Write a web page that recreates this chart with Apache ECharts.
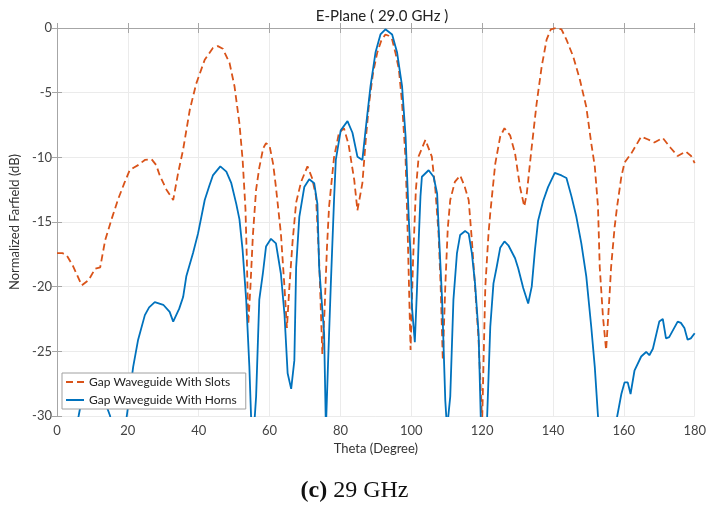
<!DOCTYPE html>
<html>
<head>
<meta charset="utf-8">
<script src="https://cdn.jsdelivr.net/npm/echarts@6/dist/echarts.min.js"></script>
<style>
  html, body { margin: 0; padding: 0; background: #fff; }
  #main { width: 709px; height: 512px; }
</style>
</head>
<body>
<div id="main"></div>
<script>
// theta (degree) and normalized farfield (dB)
var slotsTheta = [0, 1.5, 2.8, 4.5, 6, 7, 8.9, 10.8, 12.2, 13.6, 15.5, 17.3, 19, 20.5, 21.6, 22.9, 24.8, 26.7, 28, 29,
  30.9, 32.8, 34.2, 35.6, 37.5, 39.3, 41.7, 44, 45.4, 46.8, 48.7, 50.1, 51.5, 52.4, 53.2, 53.6, 54, 54.6, 55.3, 56.2,
  57.1, 58.2, 59, 60, 61, 61.8, 63.2, 64.2, 64.9, 65.6, 66.5, 67.5, 68.9, 70.7, 72, 73.1, 74, 74.9, 75.5, 76.2,
  76.8, 78.2, 79.6, 81, 82.3, 83.9, 84.8, 86.2, 87.2, 88.1, 89.2, 90.4, 91.5, 92.7, 93.6, 94.6, 95.6, 96.5, 97.4, 98.4,
  99, 99.8, 100.5, 101.3, 102.1, 104, 105.8, 106.8, 107.7, 108.3, 108.9, 109.6, 110.3, 111, 112.3, 113.8, 115, 116.2, 117.1, 118,
  119, 120, 120.9, 121.8, 122.3, 123.7, 125.1, 126.3, 127.9, 129.3, 130.7, 131.9, 132.6, 134, 135.4, 136.8, 138.2, 139.4, 141, 142.4,
  143.8, 145.7, 147.6, 149.4, 150.8, 151.8, 152.7, 153.2, 154.1, 155, 156, 156.4, 157.4, 158.1, 159.3, 160.2, 162.1, 164.9, 166.7, 168.6,
  171, 173.3, 175.2, 177.5, 179, 180];
var slotsDb = [-17.4, -17.4, -17.6, -18.4, -19.3, -19.9, -19.5, -18.6, -18.5, -16.4, -14.7, -13.2, -12, -11.0, -10.8, -10.6, -10.2, -10.15, -10.6, -11.4,
  -12.5, -13.3, -11.2, -9.4, -6.3, -4.3, -2.45, -1.55, -1.4, -1.6, -2.7, -4.5, -7.4, -10.2, -14, -18, -22.9, -20, -16, -12.5,
  -10.8, -9.3, -8.9, -9.1, -10.5, -12.3, -15.9, -20, -23.2, -20, -16.5, -13.5, -11.9, -10.7, -11.6, -13.0, -18, -25.2, -22, -17,
  -13.8, -10, -8.1, -7.75, -9, -11.75, -14.1, -12.0, -8.5, -5.8, -3.5, -1.9, -1.0, -0.5, -0.6, -0.9, -2.0, -3.2, -5.8, -10.2,
  -16, -24.9, -18, -12.5, -9.9, -8.65, -9.95, -12.5, -15.9, -20, -25.7, -20, -15.5, -13.3, -11.9, -11.4, -12.2, -13.3, -16.4, -20,
  -24.1, -30.5, -20.0, -15.9, -14.3, -10.5, -8.4, -7.75, -8.3, -9.7, -12.3, -13.8, -12.8, -9.2, -5.8, -3.0, -0.9, -0.1, 0, -0.1,
  -0.9, -2.2, -4.0, -6.1, -8.9, -10.7, -13.8, -18.5, -22.3, -24.9, -20.5, -18.5, -15.4, -13.8, -11.5, -10.4, -9.7, -8.4, -8.6, -8.85,
  -8.5, -9.3, -9.9, -9.55, -9.9, -10.45];

var hornsTheta = [0, 3, 6.1, 7, 10, 13, 15, 16, 18, 19.7, 21.5, 22.9, 24.8, 26, 27.6, 30, 31.8, 32.8, 34.5, 35.6,
  36.5, 38.4, 39.8, 41.7, 43, 44, 46.1, 47.8, 49.2, 50.6, 51.5, 52.4, 53.4, 54.3, 54.9, 55.6, 56.2, 57.1, 58.1, 59,
  60.4, 61.8, 63.2, 64.2, 65.1, 66.1, 67, 67.5, 68.4, 69.8, 71.2, 72.6, 73.5, 74, 75.4, 75.9, 76.5, 77.3, 78.2, 78.7,
  80.1, 82, 83.4, 84.8, 86.2, 87.1, 88.5, 89.9, 91.3, 92.7, 94.6, 96, 97.4, 98.4, 99.3, 99.8, 100.2, 101, 101.6, 102.1,
  102.6, 103, 104.9, 106.3, 107.3, 107.7, 108.7, 109.6, 110.1, 111, 111.9, 112.9, 113.8, 115.2, 116.2, 117.1, 118, 119, 119.7, 121.3,
  122.3, 123.2, 124.1, 125.1, 126.3, 127.4, 129.3, 130.2, 131.6, 133, 134, 134.9, 135.8, 137.2, 138.6, 140.5, 142.4, 143.8, 145.2, 146.6,
  148, 149.4, 150.8, 151.8, 152.7, 153.5, 157, 157.8, 159.3, 160.2, 161.1, 161.9, 163, 164.9, 166.3, 167.2, 168.2, 170, 171, 171.9,
  172.8, 175.2, 176.1, 177.1, 178, 178.9, 180];
var hornsDb = [-35, -34, -30, -28.7, -27.5, -28.5, -30, -33, -33, -30, -26.2, -24.1, -22.2, -21.6, -21.2, -21.4, -21.95, -22.7, -21.7, -20.8,
  -19.2, -17.4, -15.9, -13.3, -12.2, -11.4, -10.7, -11.1, -12.0, -13.6, -14.8, -17.2, -21.0, -26.2, -31, -31, -28.5, -21.0, -19.0, -16.9,
  -16.3, -16.65, -19.0, -22.1, -26.7, -27.9, -25.7, -18.5, -14.6, -12.3, -11.7, -12.0, -13.6, -18.5, -23.6, -31, -26, -19.75, -13.3, -10.2,
  -7.9, -7.2, -8.1, -9.95, -10.2, -7.9, -4.5, -1.9, -0.5, -0.1, -0.5, -1.9, -4.5, -8.4, -14.8, -17.5, -21.6, -24.3, -20.3, -16.4,
  -13, -11.5, -11.0, -11.5, -12.8, -15.3, -21.0, -28.8, -31, -28.5, -21.0, -17.4, -16.0, -15.7, -15.9, -17.4, -19.75, -23.6, -31, -31,
  -23.1, -19.75, -18.5, -17.0, -16.5, -16.8, -17.8, -18.6, -20.1, -21.3, -20.0, -17.2, -14.9, -13.4, -12.3, -11.2, -11.4, -11.6, -13.0, -14.6,
  -16.65, -19.2, -23.1, -26.2, -30, -33, -33, -30.5, -28.3, -27.4, -27.4, -28.3, -26.5, -25.4, -25.05, -25.3, -24.8, -22.7, -22.5, -24.0,
  -23.9, -22.7, -22.8, -23.2, -24.1, -24.0, -23.6];

var slotsName = 'Gap Waveguide With Slots';
var hornsName = 'Gap Waveguide With Horns';

function zip(xs, ys) {
    var out = [];
    for (var i = 0; i < xs.length; i++) {
        out.push([xs[i], ys[i]]);
    }
    return out;
}

var fontFamily = 'Lato, "Noto Sans", sans-serif';
var frameColor = '#a6a6a6';

var chart = echarts.init(document.getElementById('main'), null, { renderer: 'canvas' });

var option = {
    animation: false,
    backgroundColor: '#fff',
    textStyle: { fontFamily: fontFamily },
    title: {
        text: 'E-Plane ( 29.0 GHz )',
        left: 377,
        textAlign: 'center',
        top: 4,
        textStyle: { fontFamily: fontFamily, fontSize: 15, fontWeight: 'normal', color: '#222' }
    },
    grid: { left: 57, right: 12, top: 28, bottom: 96 },
    legend: {
        orient: 'vertical',
        left: 62,
        top: 373,
        itemGap: 6,
        itemWidth: 18,
        itemHeight: 14,
        padding: [3, 9, 3, 3],
        backgroundColor: '#fff',
        borderColor: '#a0a0a0',
        borderWidth: 1,
        borderRadius: 0,
        itemStyle: { opacity: 0 },
        textStyle: { fontFamily: fontFamily, fontSize: 12, color: '#222' },
        data: [slotsName, hornsName]
    },
    xAxis: [
        {
            type: 'value',
            min: 0, max: 180, interval: 20,
            name: 'Theta (Degree)',
            nameLocation: 'middle',
            nameGap: 26,
            nameTextStyle: { fontFamily: fontFamily, fontSize: 13, color: '#333' },
            axisLine: { lineStyle: { color: frameColor, width: 1 } },
            axisTick: { inside: true, length: 5, lineStyle: { color: frameColor } },
            axisLabel: { fontFamily: fontFamily, fontSize: 13, color: '#444', margin: 8 },
            splitLine: { lineStyle: { color: '#ebebeb', width: 1 } }
        },
        {
            type: 'value',
            position: 'top',
            min: 0, max: 180, interval: 20,
            axisLine: { lineStyle: { color: frameColor, width: 1 } },
            axisTick: { inside: true, length: 5, lineStyle: { color: frameColor } },
            axisLabel: { show: false },
            splitLine: { show: false }
        }
    ],
    yAxis: [
        {
            type: 'value',
            min: -30, max: 0, interval: 5,
            name: 'Normalized Farfield (dB)',
            nameLocation: 'middle',
            nameGap: 25,
            nameTextStyle: { fontFamily: fontFamily, fontSize: 13, color: '#333' },
            axisLine: { show: true, lineStyle: { color: frameColor, width: 1 } },
            axisTick: { show: true, inside: true, length: 5, lineStyle: { color: frameColor } },
            axisLabel: { fontFamily: fontFamily, fontSize: 13, color: '#444', margin: 5 },
            splitLine: { lineStyle: { color: '#ebebeb', width: 1 } }
        },
        {
            type: 'value',
            position: 'right',
            min: -30, max: 0, interval: 5,
            axisLine: { show: true, lineStyle: { color: frameColor, width: 1 } },
            axisTick: { show: true, inside: true, length: 5, lineStyle: { color: frameColor } },
            axisLabel: { show: false },
            splitLine: { show: false }
        }
    ],
    graphic: [
        {
            type: 'text',
            left: 'center',
            top: 479,
            style: {
                text: '{b|(c)} {r|29 GHz}',
                rich: {
                    b: { fontFamily: '"Liberation Serif", "DejaVu Serif", serif', fontSize: 24, fontWeight: 'bold', fill: '#111' },
                    r: { fontFamily: '"Liberation Serif", "DejaVu Serif", serif', fontSize: 24, fill: '#111' }
                },
                fontFamily: '"Liberation Serif", serif',
                fontSize: 24
            }
        }
    ],
    series: [
        {
            name: slotsName,
            type: 'line',
            data: zip(slotsTheta, slotsDb),
            symbol: 'none',
            clip: true,
            color: '#D95319',
            lineStyle: { color: '#D95319', width: 1.8, type: [7, 4] }
        },
        {
            name: hornsName,
            type: 'line',
            data: zip(hornsTheta, hornsDb),
            symbol: 'none',
            clip: true,
            color: '#0072BD',
            lineStyle: { color: '#0072BD', width: 1.8 }
        }
    ]
};

chart.setOption(option);
</script>
</body>
</html>
